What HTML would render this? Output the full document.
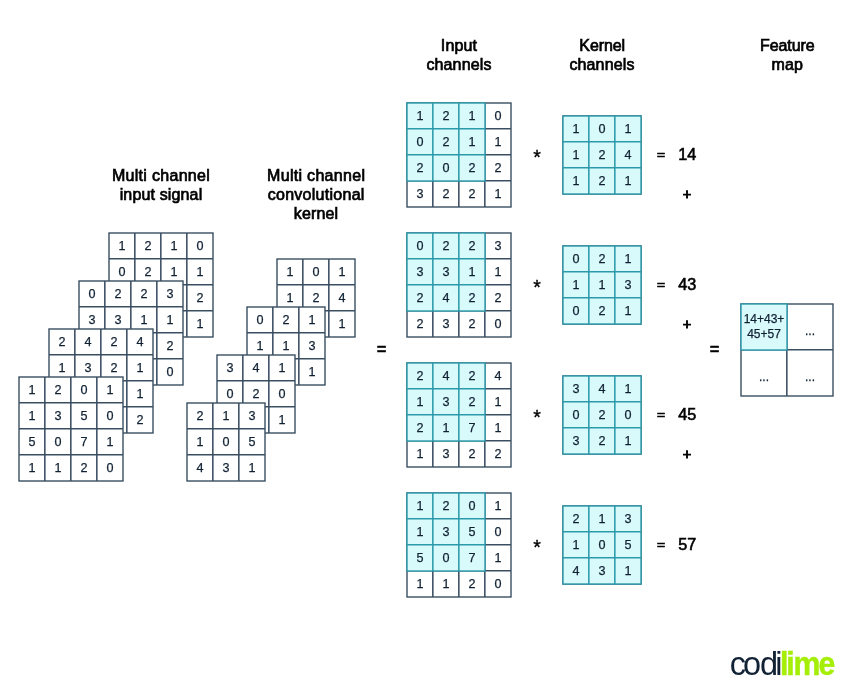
<!DOCTYPE html>
<html lang="en">
<head>
<meta charset="utf-8">
<title>Multi channel convolution</title>
<style>
html,body{margin:0;padding:0;background:#fff;}
body{width:865px;height:700px;overflow:hidden;font-family:"Liberation Sans",sans-serif;}
svg{display:block;}
svg text{font-family:"Liberation Sans",sans-serif;}
g rect{stroke-width:1.4;}
g text{font-size:12.6px;fill:#102133;stroke:#102133;stroke-width:0.25px;text-anchor:middle;}
.lbl text{font-size:16px;fill:#000;stroke:#000;stroke-width:0.7px;letter-spacing:0.15px;}
text.op{font-size:16px;font-weight:bold;fill:#000;stroke:none;text-anchor:middle;}
text.eq{font-weight:normal;stroke:#000;stroke-width:0.55px;}
text.plus{font-weight:normal;stroke:#000;stroke-width:0.9px;font-size:14.5px;}
text.star{font-size:19.5px;font-weight:normal;stroke:#000;stroke-width:0.35px;}
text.res{font-size:16.2px;fill:#000;stroke:#000;stroke-width:0.6px;text-anchor:middle;}
text.beq{font-size:16.5px;font-weight:bold;fill:#000;stroke:#000;stroke-width:0.35px;text-anchor:middle;}
text.fm{font-size:12px;fill:#102133;stroke:#102133;stroke-width:0.25px;text-anchor:middle;}
.logo text{font-size:32.5px;text-anchor:start;stroke:none;}
.logo .codi{fill:#102233;}
.logo .lime{fill:#a5ee08;stroke:#a5ee08;stroke-width:0.5px;font-weight:bold;}
</style>
</head>
<body>
<svg width="865" height="700" viewBox="0 0 865 700">
<rect x="0" y="0" width="865" height="700" fill="#fff" stroke="none"/>
<g><rect x="109" y="233" width="104" height="104" fill="#fff" stroke="#3a4f62"/><path d="M134.83 233V337M160.83 233V337M186.83 233V337M109 258.83H213M109 284.83H213M109 310.83H213" fill="none" stroke="#3a4f62" stroke-width="1.55"/><text x="122" y="249.5">1</text><text x="148" y="249.5">2</text><text x="174" y="249.5">1</text><text x="200" y="249.5">0</text><text x="122" y="275.5">0</text><text x="148" y="275.5">2</text><text x="174" y="275.5">1</text><text x="200" y="275.5">1</text><text x="122" y="301.5">2</text><text x="148" y="301.5">0</text><text x="174" y="301.5">2</text><text x="200" y="301.5">2</text><text x="122" y="327.5">3</text><text x="148" y="327.5">2</text><text x="174" y="327.5">2</text><text x="200" y="327.5">1</text></g>
<g><rect x="79" y="281" width="104" height="104" fill="#fff" stroke="#3a4f62"/><path d="M104.83 281V385M130.83 281V385M156.83 281V385M79 306.83H183M79 332.83H183M79 358.83H183" fill="none" stroke="#3a4f62" stroke-width="1.55"/><text x="92" y="297.5">0</text><text x="118" y="297.5">2</text><text x="144" y="297.5">2</text><text x="170" y="297.5">3</text><text x="92" y="323.5">3</text><text x="118" y="323.5">3</text><text x="144" y="323.5">1</text><text x="170" y="323.5">1</text><text x="92" y="349.5">2</text><text x="118" y="349.5">4</text><text x="144" y="349.5">2</text><text x="170" y="349.5">2</text><text x="92" y="375.5">2</text><text x="118" y="375.5">3</text><text x="144" y="375.5">2</text><text x="170" y="375.5">0</text></g>
<g><rect x="49" y="329" width="104" height="104" fill="#fff" stroke="#3a4f62"/><path d="M74.83 329V433M100.83 329V433M126.83 329V433M49 354.83H153M49 380.83H153M49 406.83H153" fill="none" stroke="#3a4f62" stroke-width="1.55"/><text x="62" y="345.5">2</text><text x="88" y="345.5">4</text><text x="114" y="345.5">2</text><text x="140" y="345.5">4</text><text x="62" y="371.5">1</text><text x="88" y="371.5">3</text><text x="114" y="371.5">2</text><text x="140" y="371.5">1</text><text x="62" y="397.5">2</text><text x="88" y="397.5">1</text><text x="114" y="397.5">7</text><text x="140" y="397.5">1</text><text x="62" y="423.5">1</text><text x="88" y="423.5">3</text><text x="114" y="423.5">2</text><text x="140" y="423.5">2</text></g>
<g><rect x="19" y="377" width="104" height="104" fill="#fff" stroke="#3a4f62"/><path d="M44.83 377V481M70.83 377V481M96.83 377V481M19 402.83H123M19 428.83H123M19 454.83H123" fill="none" stroke="#3a4f62" stroke-width="1.55"/><text x="32" y="393.5">1</text><text x="58" y="393.5">2</text><text x="84" y="393.5">0</text><text x="110" y="393.5">1</text><text x="32" y="419.5">1</text><text x="58" y="419.5">3</text><text x="84" y="419.5">5</text><text x="110" y="419.5">0</text><text x="32" y="445.5">5</text><text x="58" y="445.5">0</text><text x="84" y="445.5">7</text><text x="110" y="445.5">1</text><text x="32" y="471.5">1</text><text x="58" y="471.5">1</text><text x="84" y="471.5">2</text><text x="110" y="471.5">0</text></g>
<g><rect x="277" y="259" width="78" height="78" fill="#fff" stroke="#3a4f62"/><path d="M302.83 259V337M328.83 259V337M277 284.83H355M277 310.83H355" fill="none" stroke="#3a4f62" stroke-width="1.55"/><text x="290" y="275.5">1</text><text x="316" y="275.5">0</text><text x="342" y="275.5">1</text><text x="290" y="301.5">1</text><text x="316" y="301.5">2</text><text x="342" y="301.5">4</text><text x="290" y="327.5">1</text><text x="316" y="327.5">2</text><text x="342" y="327.5">1</text></g>
<g><rect x="247" y="307" width="78" height="78" fill="#fff" stroke="#3a4f62"/><path d="M272.83 307V385M298.83 307V385M247 332.83H325M247 358.83H325" fill="none" stroke="#3a4f62" stroke-width="1.55"/><text x="260" y="323.5">0</text><text x="286" y="323.5">2</text><text x="312" y="323.5">1</text><text x="260" y="349.5">1</text><text x="286" y="349.5">1</text><text x="312" y="349.5">3</text><text x="260" y="375.5">0</text><text x="286" y="375.5">2</text><text x="312" y="375.5">1</text></g>
<g><rect x="217" y="355" width="78" height="78" fill="#fff" stroke="#3a4f62"/><path d="M242.83 355V433M268.83 355V433M217 380.83H295M217 406.83H295" fill="none" stroke="#3a4f62" stroke-width="1.55"/><text x="230" y="371.5">3</text><text x="256" y="371.5">4</text><text x="282" y="371.5">1</text><text x="230" y="397.5">0</text><text x="256" y="397.5">2</text><text x="282" y="397.5">0</text><text x="230" y="423.5">3</text><text x="256" y="423.5">2</text><text x="282" y="423.5">1</text></g>
<g><rect x="187" y="403" width="78" height="78" fill="#fff" stroke="#3a4f62"/><path d="M212.83 403V481M238.83 403V481M187 428.83H265M187 454.83H265" fill="none" stroke="#3a4f62" stroke-width="1.55"/><text x="200" y="419.5">2</text><text x="226" y="419.5">1</text><text x="252" y="419.5">3</text><text x="200" y="445.5">1</text><text x="226" y="445.5">0</text><text x="252" y="445.5">5</text><text x="200" y="471.5">4</text><text x="226" y="471.5">3</text><text x="252" y="471.5">1</text></g>
<g><rect x="407" y="103" width="104" height="104" fill="#fff" stroke="#3a4f62"/><path d="M432.83 103V207M458.83 103V207M484.83 103V207M407 128.83H511M407 154.83H511M407 180.83H511" fill="none" stroke="#3a4f62" stroke-width="1.55"/><rect x="407" y="103" width="78" height="78" fill="#d9fafb" stroke="#2b9aab"/><path d="M432.83 103V181M458.83 103V181M407 128.83H485M407 154.83H485" fill="none" stroke="#2b9aab" stroke-width="1.55"/><text x="420" y="119.5">1</text><text x="446" y="119.5">2</text><text x="472" y="119.5">1</text><text x="498" y="119.5">0</text><text x="420" y="145.5">0</text><text x="446" y="145.5">2</text><text x="472" y="145.5">1</text><text x="498" y="145.5">1</text><text x="420" y="171.5">2</text><text x="446" y="171.5">0</text><text x="472" y="171.5">2</text><text x="498" y="171.5">2</text><text x="420" y="197.5">3</text><text x="446" y="197.5">2</text><text x="472" y="197.5">2</text><text x="498" y="197.5">1</text></g>
<g><rect x="563" y="116" width="78" height="78" fill="#fff" stroke="#3a4f62"/><path d="M588.83 116V194M614.83 116V194M563 141.83H641M563 167.83H641" fill="none" stroke="#3a4f62" stroke-width="1.55"/><rect x="563" y="116" width="78" height="78" fill="#d9fafb" stroke="#2b9aab"/><path d="M588.83 116V194M614.83 116V194M563 141.83H641M563 167.83H641" fill="none" stroke="#2b9aab" stroke-width="1.55"/><text x="576" y="132.5">1</text><text x="602" y="132.5">0</text><text x="628" y="132.5">1</text><text x="576" y="158.5">1</text><text x="602" y="158.5">2</text><text x="628" y="158.5">4</text><text x="576" y="184.5">1</text><text x="602" y="184.5">2</text><text x="628" y="184.5">1</text></g>
<g><rect x="407" y="233" width="104" height="104" fill="#fff" stroke="#3a4f62"/><path d="M432.83 233V337M458.83 233V337M484.83 233V337M407 258.83H511M407 284.83H511M407 310.83H511" fill="none" stroke="#3a4f62" stroke-width="1.55"/><rect x="407" y="233" width="78" height="78" fill="#d9fafb" stroke="#2b9aab"/><path d="M432.83 233V311M458.83 233V311M407 258.83H485M407 284.83H485" fill="none" stroke="#2b9aab" stroke-width="1.55"/><text x="420" y="249.5">0</text><text x="446" y="249.5">2</text><text x="472" y="249.5">2</text><text x="498" y="249.5">3</text><text x="420" y="275.5">3</text><text x="446" y="275.5">3</text><text x="472" y="275.5">1</text><text x="498" y="275.5">1</text><text x="420" y="301.5">2</text><text x="446" y="301.5">4</text><text x="472" y="301.5">2</text><text x="498" y="301.5">2</text><text x="420" y="327.5">2</text><text x="446" y="327.5">3</text><text x="472" y="327.5">2</text><text x="498" y="327.5">0</text></g>
<g><rect x="563" y="246" width="78" height="78" fill="#fff" stroke="#3a4f62"/><path d="M588.83 246V324M614.83 246V324M563 271.83H641M563 297.83H641" fill="none" stroke="#3a4f62" stroke-width="1.55"/><rect x="563" y="246" width="78" height="78" fill="#d9fafb" stroke="#2b9aab"/><path d="M588.83 246V324M614.83 246V324M563 271.83H641M563 297.83H641" fill="none" stroke="#2b9aab" stroke-width="1.55"/><text x="576" y="262.5">0</text><text x="602" y="262.5">2</text><text x="628" y="262.5">1</text><text x="576" y="288.5">1</text><text x="602" y="288.5">1</text><text x="628" y="288.5">3</text><text x="576" y="314.5">0</text><text x="602" y="314.5">2</text><text x="628" y="314.5">1</text></g>
<g><rect x="407" y="363" width="104" height="104" fill="#fff" stroke="#3a4f62"/><path d="M432.83 363V467M458.83 363V467M484.83 363V467M407 388.83H511M407 414.83H511M407 440.83H511" fill="none" stroke="#3a4f62" stroke-width="1.55"/><rect x="407" y="363" width="78" height="78" fill="#d9fafb" stroke="#2b9aab"/><path d="M432.83 363V441M458.83 363V441M407 388.83H485M407 414.83H485" fill="none" stroke="#2b9aab" stroke-width="1.55"/><text x="420" y="379.5">2</text><text x="446" y="379.5">4</text><text x="472" y="379.5">2</text><text x="498" y="379.5">4</text><text x="420" y="405.5">1</text><text x="446" y="405.5">3</text><text x="472" y="405.5">2</text><text x="498" y="405.5">1</text><text x="420" y="431.5">2</text><text x="446" y="431.5">1</text><text x="472" y="431.5">7</text><text x="498" y="431.5">1</text><text x="420" y="457.5">1</text><text x="446" y="457.5">3</text><text x="472" y="457.5">2</text><text x="498" y="457.5">2</text></g>
<g><rect x="563" y="376" width="78" height="78" fill="#fff" stroke="#3a4f62"/><path d="M588.83 376V454M614.83 376V454M563 401.83H641M563 427.83H641" fill="none" stroke="#3a4f62" stroke-width="1.55"/><rect x="563" y="376" width="78" height="78" fill="#d9fafb" stroke="#2b9aab"/><path d="M588.83 376V454M614.83 376V454M563 401.83H641M563 427.83H641" fill="none" stroke="#2b9aab" stroke-width="1.55"/><text x="576" y="392.5">3</text><text x="602" y="392.5">4</text><text x="628" y="392.5">1</text><text x="576" y="418.5">0</text><text x="602" y="418.5">2</text><text x="628" y="418.5">0</text><text x="576" y="444.5">3</text><text x="602" y="444.5">2</text><text x="628" y="444.5">1</text></g>
<g><rect x="407" y="493" width="104" height="104" fill="#fff" stroke="#3a4f62"/><path d="M432.83 493V597M458.83 493V597M484.83 493V597M407 518.83H511M407 544.83H511M407 570.83H511" fill="none" stroke="#3a4f62" stroke-width="1.55"/><rect x="407" y="493" width="78" height="78" fill="#d9fafb" stroke="#2b9aab"/><path d="M432.83 493V571M458.83 493V571M407 518.83H485M407 544.83H485" fill="none" stroke="#2b9aab" stroke-width="1.55"/><text x="420" y="509.5">1</text><text x="446" y="509.5">2</text><text x="472" y="509.5">0</text><text x="498" y="509.5">1</text><text x="420" y="535.5">1</text><text x="446" y="535.5">3</text><text x="472" y="535.5">5</text><text x="498" y="535.5">0</text><text x="420" y="561.5">5</text><text x="446" y="561.5">0</text><text x="472" y="561.5">7</text><text x="498" y="561.5">1</text><text x="420" y="587.5">1</text><text x="446" y="587.5">1</text><text x="472" y="587.5">2</text><text x="498" y="587.5">0</text></g>
<g><rect x="563" y="506" width="78" height="78" fill="#fff" stroke="#3a4f62"/><path d="M588.83 506V584M614.83 506V584M563 531.83H641M563 557.83H641" fill="none" stroke="#3a4f62" stroke-width="1.55"/><rect x="563" y="506" width="78" height="78" fill="#d9fafb" stroke="#2b9aab"/><path d="M588.83 506V584M614.83 506V584M563 531.83H641M563 557.83H641" fill="none" stroke="#2b9aab" stroke-width="1.55"/><text x="576" y="522.5">2</text><text x="602" y="522.5">1</text><text x="628" y="522.5">3</text><text x="576" y="548.5">1</text><text x="602" y="548.5">0</text><text x="628" y="548.5">5</text><text x="576" y="574.5">4</text><text x="602" y="574.5">3</text><text x="628" y="574.5">1</text></g>
<g><rect x="741" y="304" width="92" height="92" fill="#fff" stroke="#3a4f62"/>
<path d="M786.83 304V396M741 349.83H833" fill="none" stroke="#3a4f62" stroke-width="1.55"/>
<rect x="741" y="304" width="46" height="46" fill="#d9fafb" stroke="#2b9aab"/>
<text class="fm" x="764" y="323">14+43+</text>
<text class="fm" x="764" y="338">45+57</text>
<text class="fm" x="810" y="335">...</text>
<text class="fm" x="764" y="381">...</text>
<text class="fm" x="810" y="381">...</text></g>
<text class="op star" x="537.1" y="164.2">*</text>
<text class="op eq" transform="translate(661.0,154.75) scale(0.92,0.76)" x="0" y="5.1">=</text>
<text class="res" x="687.3" y="159.6">14</text>
<text class="op plus" transform="translate(687.05,198.7) scale(1,0.98)" x="0" y="0">+</text>
<text class="op star" x="537.1" y="294.2">*</text>
<text class="op eq" transform="translate(661.0,284.75) scale(0.92,0.76)" x="0" y="5.1">=</text>
<text class="res" x="687.3" y="289.6">43</text>
<text class="op plus" transform="translate(687.05,328.7) scale(1,0.98)" x="0" y="0">+</text>
<text class="op star" x="537.1" y="424.2">*</text>
<text class="op eq" transform="translate(661.0,414.75) scale(0.92,0.76)" x="0" y="5.1">=</text>
<text class="res" x="687.3" y="419.6">45</text>
<text class="op plus" transform="translate(687.05,458.7) scale(1,0.98)" x="0" y="0">+</text>
<text class="op star" x="537.1" y="554.2">*</text>
<text class="op eq" transform="translate(661.0,544.75) scale(0.92,0.76)" x="0" y="5.1">=</text>
<text class="res" x="687.3" y="549.6">57</text>
<text class="beq" x="381.5" y="355">=</text>
<text class="beq" x="714.5" y="355">=</text>
<g class="lbl">
<text x="161" y="181" style="letter-spacing:0.3px">Multi channel</text>
<text x="161" y="200">input signal</text>
<text x="316.2" y="181" style="letter-spacing:0.3px">Multi channel</text>
<text x="316.2" y="200" style="letter-spacing:0.27px">convolutional</text>
<text x="316" y="219">kernel</text>
<text x="459" y="51">Input</text>
<text x="459" y="70">channels</text>
<text x="602.2" y="51" style="letter-spacing:-0.1px">Kernel</text>
<text x="602" y="70">channels</text>
<text x="787.3" y="51" style="letter-spacing:-0.08px">Feature</text>
<text x="787.3" y="70">map</text>
</g>
<g class="logo">
<text class="codi" x="729.7 743 760 775.2" y="674.8">codi</text>
<text class="lime" transform="translate(781.9,674.8) scale(0.93,1)" x="-2 4.8 12.5 39.4" y="0">lime</text>
</g>
</svg>
</body>
</html>
